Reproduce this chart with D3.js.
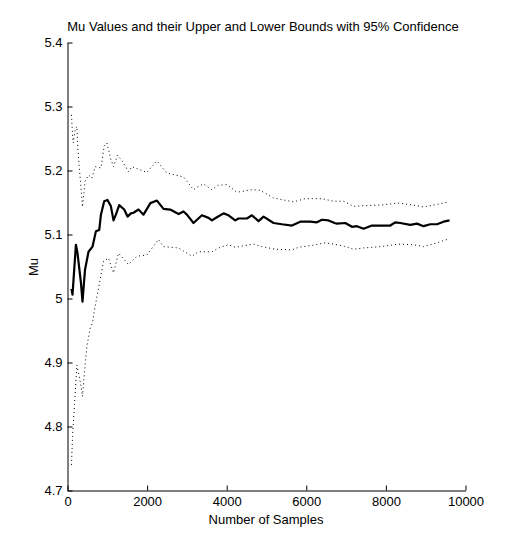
<html>
  <head>
    <title>Mu Values</title>
    <script src="https://d3js.org/d3.v7.min.js"></script>
    <style>
      body{margin:0;background:#fff;}
      text{font-family:"Liberation Sans",Arial,sans-serif;font-size:13px;fill:#000;}
    </style>
  </head>
  <body>
    <script>
      // values
      var muN=[100,126,211,251,337,377,440,528,628,714,797,840,922,1005,1091,1156,1216,1299,1425,1508,1593,1659,1784,1910,2083,2247,2413,2580,2790,2915,3000,3166,3377,3544,3628,3754,3921,4046,4214,4297,4508,4634,4800,4926,5177,5388,5639,5848,6099,6267,6393,6559,6710,6770,6979,7147,7273,7439,7650,7858,8110,8235,8361,8612,8780,8946,9115,9283,9449,9600];
      var muVal=[5.015,5.006,5.084,5.071,5.025,4.995,5.045,5.073,5.081,5.105,5.107,5.131,5.152,5.154,5.144,5.122,5.131,5.146,5.139,5.128,5.133,5.134,5.139,5.131,5.149,5.153,5.140,5.139,5.132,5.136,5.131,5.118,5.130,5.126,5.122,5.127,5.133,5.130,5.122,5.125,5.125,5.130,5.121,5.128,5.118,5.116,5.114,5.120,5.120,5.119,5.123,5.122,5.118,5.117,5.118,5.112,5.113,5.109,5.114,5.114,5.114,5.119,5.118,5.115,5.117,5.113,5.116,5.116,5.120,5.122];

      var upN=[100,126,143,193,236,251,294,337,377,440,528,611,697,840,922,990,1091,1156,1256,1382,1533,1617,1994,2245,2496,2915,3166,3292,3418,3628,3795,4006,4257,4634,4843,5177,5680,5973,6393,6685,6937,7188,7439,7858,8318,8695,8946,9283,9575];
      var upVal=[5.287,5.256,5.243,5.264,5.269,5.243,5.206,5.175,5.143,5.183,5.193,5.188,5.206,5.204,5.238,5.243,5.217,5.206,5.224,5.214,5.198,5.206,5.197,5.215,5.196,5.190,5.170,5.175,5.179,5.170,5.177,5.178,5.166,5.170,5.169,5.157,5.151,5.156,5.156,5.152,5.152,5.144,5.145,5.146,5.149,5.146,5.143,5.147,5.151];

      var loN=[100,126,176,236,294,344,377,427,487,570,628,671,729,905,1030,1156,1281,1533,1744,1994,2286,2413,2790,3126,3292,3628,3837,4046,4214,4674,4885,5220,5639,5805,6142,6476,6685,6937,7188,7439,7858,8318,8695,8946,9283,9575];
      var loVal=[4.740,4.784,4.834,4.896,4.878,4.862,4.847,4.886,4.925,4.954,4.962,4.980,4.999,5.058,5.063,5.040,5.071,5.053,5.066,5.068,5.092,5.081,5.079,5.066,5.073,5.073,5.080,5.084,5.080,5.085,5.081,5.077,5.076,5.080,5.083,5.087,5.085,5.082,5.077,5.079,5.081,5.085,5.084,5.081,5.087,5.093];

      var xTicks=[0,2000,4000,6000,8000,10000];
      var yTicks=[4.7,4.8,4.9,5,5.1,5.2,5.3,5.4];

      var svg=d3.select('body').append('svg')
                .attr('width',514)
                .attr('height',552);

      var x=d3.scaleLinear().domain([0,10000]).range([67.5,465.5]);
      var y=d3.scaleLinear().domain([4.7,5.4]).range([490.5,42.5]);

      // axes, ticks pointing inward like matlab
      var xAxis=svg.append('g')
                   .attr('transform','translate(0,490.5)')
                   .call(d3.axisBottom(x).tickValues(xTicks).tickSizeInner(-5).tickSizeOuter(0).tickPadding(6).tickFormat(d3.format('d')));
      var yAxis=svg.append('g')
                   .attr('transform','translate(67.5,0)')
                   .call(d3.axisLeft(y).tickValues(yTicks).tickSizeInner(-5).tickSizeOuter(0).tickPadding(5).tickFormat(function(d){return String(+d.toFixed(1));}));
      svg.selectAll('.domain,.tick line').attr('stroke','#000').attr('stroke-width',1);
      svg.selectAll('.tick text').attr('font-size',13).attr('font-family','"Liberation Sans",Arial,sans-serif');

      function series(ns,vs)
      {
        return ns.map(function(n,i){return [n,vs[i]];});
      }
      var line=d3.line().x(function(d){return x(d[0]);}).y(function(d){return y(d[1]);});

      svg.append('path').datum(series(upN,upVal))
         .attr('d',line).attr('fill','none').attr('stroke','#000')
         .attr('stroke-width',1).attr('stroke-dasharray','1,3');
      svg.append('path').datum(series(loN,loVal))
         .attr('d',line).attr('fill','none').attr('stroke','#000')
         .attr('stroke-width',1).attr('stroke-dasharray','1,3');
      svg.append('path').datum(series(muN,muVal))
         .attr('d',line).attr('fill','none').attr('stroke','#000')
         .attr('stroke-width',2.2).attr('stroke-linejoin','round');

      svg.append('text').attr('x',263).attr('y',31).attr('text-anchor','middle')
         .text('Mu Values and their Upper and Lower Bounds with 95% Confidence');
      svg.append('text').attr('x',266).attr('y',524).attr('text-anchor','middle')
         .text('Number of Samples');
      svg.append('text').attr('transform','translate(38,267) rotate(-90)').attr('text-anchor','middle')
         .text('Mu');
    </script>
  </body>
</html>
